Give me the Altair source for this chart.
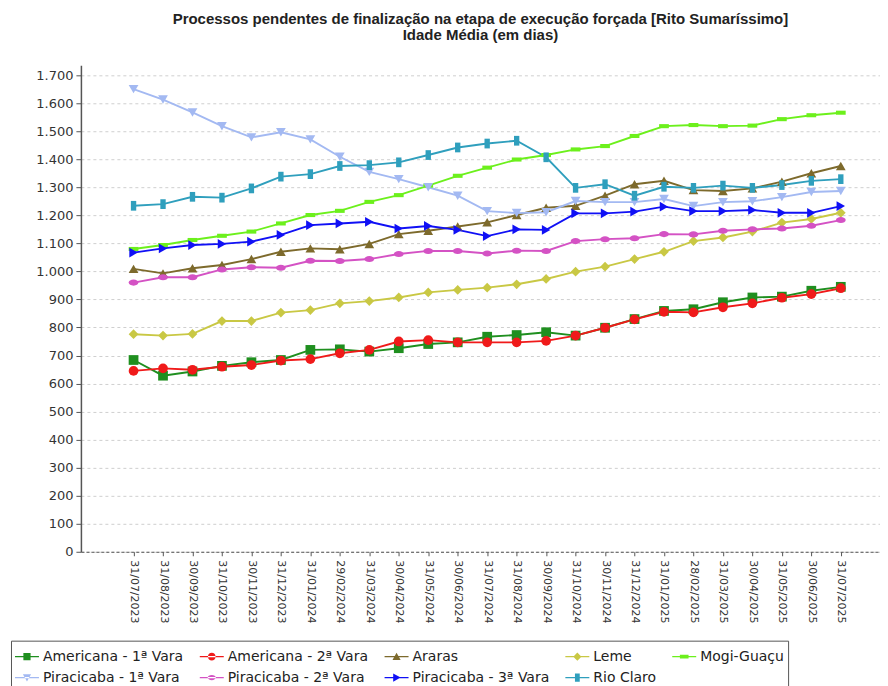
import json
import altair as alt
import pandas as pd

datas = ["31/07/2023", "31/08/2023", "30/09/2023", "31/10/2023", "30/11/2023",
         "31/12/2023", "31/01/2024", "29/02/2024", "31/03/2024", "30/04/2024",
         "31/05/2024", "30/06/2024", "31/07/2024", "31/08/2024", "30/09/2024",
         "31/10/2024", "30/11/2024", "31/12/2024", "31/01/2025", "28/02/2025",
         "31/03/2025", "30/04/2025", "31/05/2025", "30/06/2025", "31/07/2025"]

series = ["Americana - 1ª Vara", "Americana - 2ª Vara", "Araras", "Leme", "Mogi-Guaçu",
          "Piracicaba - 1ª Vara", "Piracicaba - 2ª Vara", "Piracicaba - 3ª Vara", "Rio Claro"]

americana_1 = [684, 628, 643, 663, 676, 684, 720, 722, 714, 726, 741, 747, 767,
               773, 783, 771, 799, 830, 859, 865, 890, 907, 910, 931, 945]
americana_2 = [645, 654, 649, 660, 666, 682, 687, 708, 720, 750, 755, 747, 747,
               747, 752, 771, 799, 829, 856, 854, 872, 886, 906, 919, 940]
araras = [1009, 993, 1011, 1023, 1044, 1070, 1082, 1079, 1098, 1133, 1145, 1160, 1175,
          1201, 1227, 1234, 1270, 1311, 1323, 1290, 1287, 1296, 1320, 1350, 1376]
leme = [776, 771, 777, 823, 823, 853, 862, 886, 894, 907, 925, 934, 942,
        954, 973, 999, 1017, 1044, 1070, 1108, 1121, 1142, 1174, 1187, 1209]
mogi_guacu = [1080, 1094, 1112, 1127, 1142, 1171, 1201, 1216, 1248, 1272, 1306, 1341, 1370,
              1399, 1415, 1435, 1447, 1483, 1518, 1522, 1518, 1520, 1543, 1557, 1566]
piracicaba_1 = [1650, 1613, 1567, 1518, 1478, 1496, 1471, 1409, 1355, 1329, 1300, 1270, 1215,
                1208, 1211, 1251, 1247, 1247, 1258, 1233, 1247, 1250, 1265, 1283, 1287]
piracicaba_2 = [960, 979, 979, 1007, 1015, 1013, 1038, 1037, 1044, 1062, 1073, 1073, 1064,
                1074, 1073, 1108, 1115, 1118, 1133, 1132, 1145, 1150, 1153, 1163, 1183]
piracicaba_3 = [1067, 1082, 1094, 1098, 1106, 1130, 1165, 1171, 1177, 1153, 1162, 1148, 1126,
                1150, 1148, 1207, 1207, 1213, 1231, 1215, 1215, 1219, 1209, 1209, 1233]
rio_claro = [1234, 1240, 1266, 1263, 1296, 1338, 1347, 1376, 1379, 1389, 1415, 1442, 1456,
             1466, 1407, 1298, 1311, 1270, 1302, 1298, 1306, 1298, 1308, 1323, 1329]

valores = [americana_1, americana_2, araras, leme, mogi_guacu,
           piracicaba_1, piracicaba_2, piracicaba_3, rio_claro]

cores = ["#1f8f1f", "#f01a1a", "#7d6a2c", "#c9c844", "#6cf01c",
         "#a3b9f2", "#d452c4", "#1010f5", "#2f9fbd"]

formas_pontos = [
    "square",
    "circle",
    "triangle-up",
    "diamond",
    "M-1,-0.42H1V0.42H-1Z",
    "triangle-down",
    "M-1,0A1,0.62,0,1,0,1,0A1,0.62,0,1,0,-1,0Z",
    "triangle-right",
    "M-0.55,-1H0.55V1H-0.55Z",
]

barra = "M-1,-0.06H1V0.06H-1Z"
formas_legenda = [
    barra + "M-0.3,-0.3H0.3V0.3H-0.3Z",
    barra + "M-0.32,0A0.32,0.32,0,1,0,0.32,0A0.32,0.32,0,1,0,-0.32,0Z",
    barra + "M0,-0.32L0.34,0.28H-0.34Z",
    barra + "M0,-0.34L0.34,0L0,0.34L-0.34,0Z",
    barra + "M-0.36,-0.15H0.36V0.15H-0.36Z",
    barra + "M0,0.32L0.34,-0.28H-0.34Z",
    barra + "M-0.34,0A0.34,0.22,0,1,0,0.34,0A0.34,0.22,0,1,0,-0.34,0Z",
    barra + "M0.34,0L-0.28,0.34V-0.34Z",
    barra + "M-0.2,-0.34H0.2V0.34H-0.2Z",
]

linhas_df = []
for nome, vals in zip(series, valores):
    for i, (d, v) in enumerate(zip(datas, vals)):
        linhas_df.append({"i": i, "Data": d, "Série": nome, "Valor": v})
df = pd.DataFrame(linhas_df)

rotulos_x = "%s[datum.value]" % json.dumps(datas)

x_enc = alt.X("i:Q",
              scale=alt.Scale(domain=[-1.786, 25.33], nice=False, zero=False),
              axis=alt.Axis(title=None, labelAngle=90, grid=False,
                            values=list(range(len(datas))), labelExpr=rotulos_x,
                            labelFont="DejaVu Sans", labelFontSize=11, labelColor="#333",
                            domainColor="#555", domainDash=[3, 2], tickColor="#555",
                            tickSize=4, labelPadding=4, labelFlush=False,
                            labelOverlap=False))
y_enc = alt.Y("Valor:Q",
              scale=alt.Scale(domain=[0, 1735], nice=False, zero=True),
              axis=alt.Axis(title=None, values=list(range(0, 1800, 100)),
                            labelExpr="replace(format(datum.value, ','), ',', '.')",
                            labelFont="DejaVu Sans", labelFontSize=13, labelColor="#333",
                            domainColor="#555", domainWidth=1.5, tickColor="#555",
                            tickSize=5, labelPadding=3,
                            gridColor="#cfcfcf", gridDash=[3, 3], gridWidth=1))

cor_sem_legenda = alt.Color("Série:N", scale=alt.Scale(domain=series, range=cores), legend=None)

linhas = alt.Chart(df).mark_line(strokeWidth=1.9).encode(
    x=x_enc, y=y_enc, color=cor_sem_legenda, detail="Série:N")

pontos = alt.Chart(df).mark_point(filled=True, opacity=1, size=95).encode(
    x=x_enc, y=y_enc, color=cor_sem_legenda,
    shape=alt.Shape("Série:N", scale=alt.Scale(domain=series, range=formas_pontos), legend=None))

legenda_props = dict(title=None, orient="none", legendX=-70, legendY=576,
                     direction="horizontal", columns=5, gridAlign="none",
                     labelFont="DejaVu Sans", labelFontSize=14, labelColor="#222",
                     labelLimit=300, symbolSize=576, symbolStrokeWidth=0,
                     strokeColor="#555", fillColor="white", padding=4,
                     rowPadding=2, columnPadding=16, labelOffset=4)

legenda = alt.Chart(df).transform_filter("false").mark_point(
    filled=True, opacity=1, size=576).encode(
    x=x_enc, y=y_enc,
    color=alt.Color("Série:N", scale=alt.Scale(domain=series, range=cores),
                    legend=alt.Legend(**legenda_props)),
    shape=alt.Shape("Série:N", scale=alt.Scale(domain=series, range=formas_legenda),
                    legend=alt.Legend(**legenda_props)))

chart = alt.layer(alt.layer(linhas, pontos), legenda).resolve_scale(
    color="independent", shape="independent"
).properties(
    width=800, height=487,
    padding={"left": 2, "top": 4, "right": 0, "bottom": 0},
    background="white",
    title=alt.TitleParams(
        text=["Processos pendentes de finalização na etapa de execução forçada [Rito Sumaríssimo]",
              "Idade Média (em dias)"],
        font="Liberation Sans", fontSize=15, fontWeight="bold", color="#222",
        anchor="middle", lineHeight=16, offset=22),
).configure_view(strokeWidth=0)

chart.save("out.html", embed_options={"renderer": "svg", "actions": False})
